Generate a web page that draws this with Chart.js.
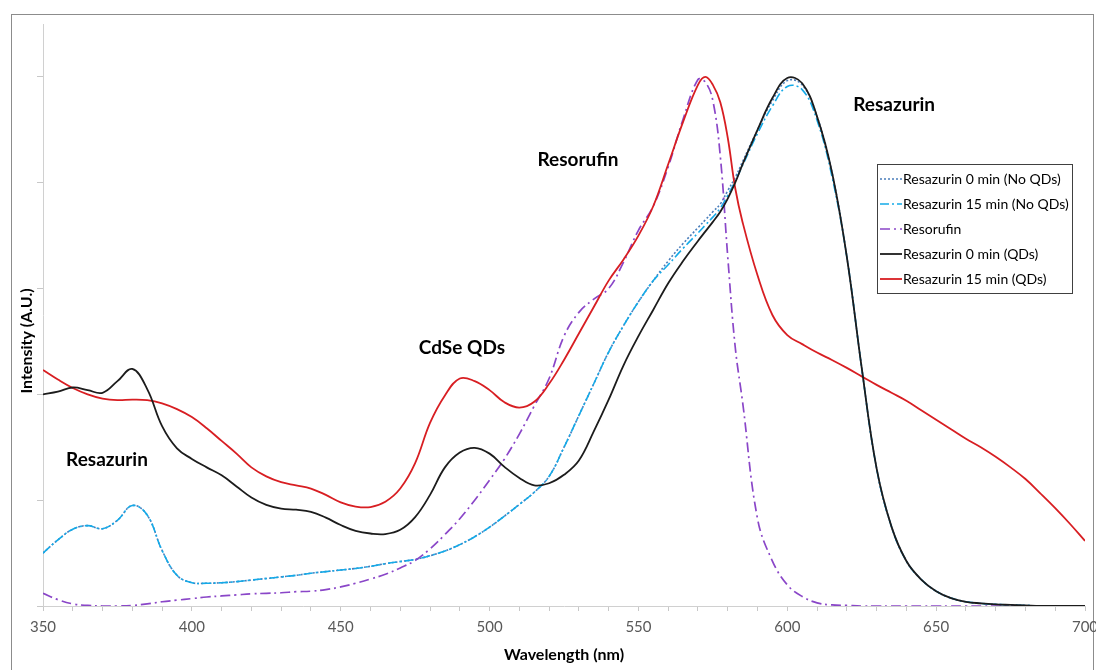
<!DOCTYPE html>
<html>
<head>
<meta charset="utf-8">
<script src="https://cdn.jsdelivr.net/npm/chart.js@4.4.1/dist/chart.umd.min.js"></script>
<style>
html, body { margin: 0; padding: 0; background: #fff; }
#wrap { position: relative; width: 1096px; height: 670px; }
</style>
</head>
<body>
<div id="wrap"><canvas id="spectra" width="1096" height="670"></canvas></div>
<script>
// wavelength grid (nm), extra points around the 572-585 peaks
var wavelengths = [350,355,360,365,370,375,380,385,390,395,400,405,410,415,420,425,430,435,440,445,
  450,455,460,465,470,475,480,485,490,495,500,505,510,515,520,525,530,535,540,545,550,555,560,565,570,
  572.5,575,577.5,580,582.5,585,590,595,600,605,610,615,620,625,630,635,640,645,650,655,660,665,670,675,
  680,685,690,695,700];

var seriesNames = ['Resazurin 0 min (No QDs)', 'Resazurin 15 min (No QDs)', 'Resorufin',
  'Resazurin 0 min (QDs)', 'Resazurin 15 min (QDs)'];

// normalised intensity
var res0NoQD = [0.100,0.125,0.145,0.152,0.146,0.162,0.190,0.172,0.105,0.058,0.044,0.043,0.044,0.046,0.049,0.052,
  0.055,0.058,0.062,0.065,0.068,0.071,0.075,0.080,0.084,0.088,0.095,0.104,0.116,0.131,0.149,0.170,0.192,0.215,
  0.245,0.300,0.360,0.420,0.480,0.530,0.575,0.615,0.652,0.685,0.715,
  0.730,0.745,0.760,0.785,0.810,0.840,0.900,0.955,0.993,0.985,0.925,0.820,0.660,0.450,0.260,0.150,0.085,0.050,
  0.028,0.015,0.008,0.005,0.003,0.002,0.001,0,0,0,0];
var res15NoQD = [0.100,0.125,0.145,0.152,0.146,0.162,0.190,0.172,0.105,0.058,0.044,0.043,0.044,0.046,0.049,0.052,
  0.055,0.058,0.062,0.065,0.068,0.071,0.075,0.080,0.084,0.088,0.095,0.104,0.116,0.131,0.149,0.170,0.192,0.215,
  0.245,0.300,0.360,0.420,0.480,0.530,0.575,0.615,0.645,0.676,0.705,
  0.720,0.735,0.752,0.776,0.803,0.833,0.893,0.945,0.982,0.976,0.918,0.812,0.660,0.450,0.260,0.150,0.085,0.050,
  0.028,0.015,0.008,0.005,0.003,0.002,0.001,0,0,0,0];
var resorufin = [0.024,0.012,0.004,0.001,0.000,0.000,0.001,0.004,0.008,0.011,0.014,0.017,0.019,0.021,0.023,0.024,
  0.025,0.027,0.028,0.031,0.036,0.043,0.051,0.060,0.072,0.086,0.108,0.135,0.165,0.200,0.238,0.278,0.325,0.378,
  0.430,0.510,0.555,0.580,0.600,0.650,0.710,0.756,0.830,0.920,0.995,
  0.990,0.955,0.850,0.660,0.490,0.385,0.165,0.085,0.040,0.018,0.006,0.002,0.001,0,0,0,0,0,
  0,0,0,0,0,0,0,0,0,0,0];
var res0QD = [0.400,0.405,0.413,0.408,0.403,0.425,0.448,0.410,0.340,0.298,0.278,0.262,0.247,0.226,0.205,0.191,
  0.184,0.182,0.178,0.167,0.153,0.142,0.137,0.136,0.144,0.168,0.210,0.262,0.290,0.299,0.288,0.263,0.242,0.228,
  0.232,0.248,0.275,0.330,0.390,0.455,0.510,0.560,0.610,0.652,0.690,
  0.708,0.726,0.745,0.770,0.800,0.835,0.900,0.960,0.998,0.988,0.925,0.820,0.660,0.450,0.260,0.150,0.085,0.050,
  0.028,0.015,0.008,0.005,0.003,0.002,0.001,0,0,0,0];
var res15QD = [0.446,0.428,0.412,0.400,0.392,0.389,0.390,0.389,0.383,0.372,0.357,0.336,0.312,0.288,0.262,0.245,
  0.234,0.228,0.222,0.210,0.196,0.188,0.187,0.197,0.222,0.270,0.346,0.398,0.430,0.425,0.408,0.385,0.375,0.386,
  0.420,0.465,0.515,0.565,0.615,0.655,0.700,0.756,0.835,0.915,0.985,
  1.000,0.985,0.952,0.885,0.790,0.725,0.625,0.550,0.512,0.495,0.479,0.465,0.450,0.434,0.418,0.403,0.388,0.370,
  0.352,0.334,0.316,0.300,0.282,0.262,0.240,0.213,0.185,0.155,0.123];

var xTicks = [350, 400, 450, 500, 550, 600, 650, 700];
var noteTexts = ['Resazurin', 'CdSe QDs', 'Resorufin', 'Resazurin'];

function pts(vals) {
  return wavelengths.map(function (w, i) { return { x: w, y: vals[i] }; });
}

function line(label, vals, color, dash, width, order) {
  return {
    label: label, data: pts(vals), borderColor: color, borderDash: dash,
    borderWidth: width, pointRadius: 0, fill: false,
    tension: 0.4, order: order
  };
}

// frame, axis titles, labels on the curves and the boxed legend
var decor = {
  id: 'decor',
  beforeDraw: function (chart) {
    var c = chart.ctx;
    c.save();
    c.strokeStyle = '#8c8c8c';
    c.lineWidth = 1;
    c.strokeRect(11.5, 14.5, 1082, 700);
    c.restore();
  },
  afterDatasetsDraw: function (chart) {
    var c = chart.ctx, a = chart.chartArea;
    var xs = chart.scales.x, ys = chart.scales.y;
    c.save();
    c.fillStyle = '#000';
    c.textAlign = 'center';
    c.textBaseline = 'middle';

    c.font = 'bold 16px Lato';
    c.fillText('Wavelength (nm)', (a.left + a.right) / 2, a.bottom + 49);
    c.save();
    c.translate(27, a.top + 317);
    c.rotate(-Math.PI / 2);
    c.fillText('Intensity (A.U.)', 0, 0);
    c.restore();

    c.font = 'bold 19px Lato';
    c.fillText(noteTexts[0], xs.getPixelForValue(371.5), ys.getPixelForValue(0.277));
    c.fillText(noteTexts[1], xs.getPixelForValue(490.7), ys.getPixelForValue(0.487));
    c.fillText(noteTexts[2], xs.getPixelForValue(529.7), ys.getPixelForValue(0.843));
    c.fillText(noteTexts[3], xs.getPixelForValue(635.9), ys.getPixelForValue(0.947));

    // legend box
    var x0 = a.right - 208, y0 = 164, w = 195, h = 129;
    c.fillStyle = '#fff';
    c.fillRect(x0, y0, w, h);
    c.strokeStyle = '#404040';
    c.lineWidth = 1;
    c.strokeRect(x0 + 0.5, y0 + 0.5, w, h);
    c.textAlign = 'left';
    c.font = '14px Lato';
    seriesNames.forEach(function (name, i) {
      var ds = chart.data.datasets[i];
      var y = y0 + 15 + i * 25;
      c.strokeStyle = ds.borderColor;
      c.lineWidth = ds.borderWidth;
      c.setLineDash(ds.borderDash || []);
      c.beginPath();
      c.moveTo(x0 + 3, y);
      c.lineTo(x0 + 25, y);
      c.stroke();
      c.setLineDash([]);
      c.fillStyle = '#000';
      c.fillText(name, x0 + 26, y);
    });
    c.restore();
  }
};

var ctx = document.getElementById('spectra').getContext('2d');
var chart = new Chart(ctx, {
  type: 'line',
  data: {
    datasets: [
      line(seriesNames[0], res0NoQD, '#4a7ebb', [2, 2], 1.6, 4),
      line(seriesNames[1], res15NoQD, '#14aae8', [9, 3, 2, 3], 1.6, 3),
      line(seriesNames[2], resorufin, '#8a46c8', [10, 4, 2, 4], 1.7, 2),
      line(seriesNames[3], res0QD, '#1c1c1c', [], 1.8, 0),
      line(seriesNames[4], res15QD, '#d81e22', [], 1.8, 1)
    ]
  },
  options: {
    responsive: false,
    animation: false,
    layout: { padding: { top: 24, right: 11, left: 0, bottom: 0 } },
    plugins: { legend: { display: false }, tooltip: { enabled: false } },
    scales: {
      x: {
        type: 'linear',
        min: 350, max: 700,
        border: { color: '#d0d0d0', width: 1 },
        grid: { drawOnChartArea: false, color: '#c8c8c8', tickLength: 5 },
        ticks: {
          stepSize: 10, autoSkip: false, maxRotation: 0, padding: 7,
          color: '#595959', font: { family: 'Lato', size: 15 },
          callback: function (v) { return xTicks.indexOf(v) >= 0 ? String(v) : ''; }
        },
        afterFit: function (s) { s.height = 64; s.paddingLeft = 0; s.paddingRight = 0; }
      },
      y: {
        min: 0, max: 1.1,
        border: { color: '#d0d0d0', width: 1 },
        grid: { drawOnChartArea: false, color: '#c8c8c8', tickLength: 6 },
        ticks: { stepSize: 0.2, includeBounds: false, display: false },
        afterFit: function (s) { s.width = 43; }
      }
    }
  },
  plugins: [decor]
});
</script>
</body>
</html>
